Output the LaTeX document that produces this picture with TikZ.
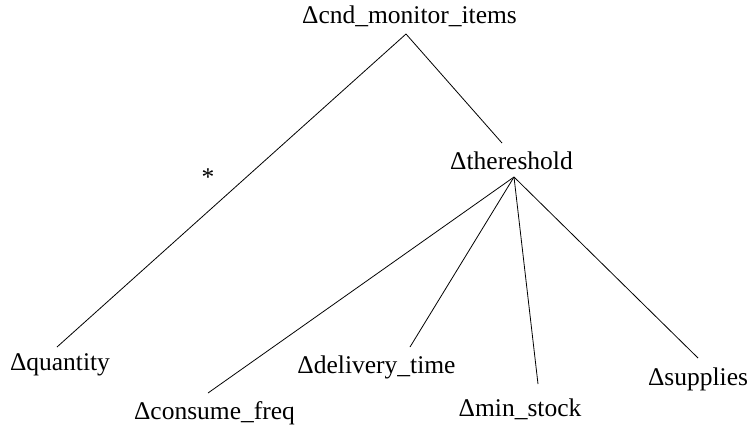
\documentclass[tikz,border=0pt]{standalone}
\usepackage{fontspec}
\setmainfont{Liberation Serif}
\begin{document}
\begin{tikzpicture}[x=1pt,y=-1pt,
  lbl/.style={anchor=base,inner sep=0pt,font=\fontsize{25.5}{29}\selectfont},
  edge/.style={line width=0.8pt,black}]
\useasboundingbox (0,0) rectangle (750,429);
% labels
\node[lbl] (root) at (409.5,23) {Δcnd\_monitor\_items};
\node[lbl] (thr) at (511.5,169) {Δthereshold};
\node[lbl] (qty) at (60,370) {Δquantity};
\node[lbl] (cons) at (214.5,419) {Δconsume\_freq};
\node[lbl] (deliv) at (376.5,373) {Δdelivery\_time};
\node[lbl] (mins) at (520,416) {Δmin\_stock};
\node[lbl] (supp) at (698,385) {Δsupplies};
\node[lbl] (star) at (208,185) {*};
% connector points
\coordinate (rootp) at (406,34);
\coordinate (thrin) at (502,143);
\coordinate (thrp) at (514,177);
\coordinate (qtyp) at (57,347);
\coordinate (consp) at (208,393);
\coordinate (delivp) at (410,347);
\coordinate (minsp) at (538,384);
\coordinate (suppp) at (698,358);
% connectors
\draw[edge] (rootp) -- (qtyp);
\draw[edge] (rootp) -- (thrin);
\draw[edge] (thrp) -- (consp);
\draw[edge] (thrp) -- (delivp);
\draw[edge] (thrp) -- (minsp);
\draw[edge] (thrp) -- (suppp);
\end{tikzpicture}
\end{document}
